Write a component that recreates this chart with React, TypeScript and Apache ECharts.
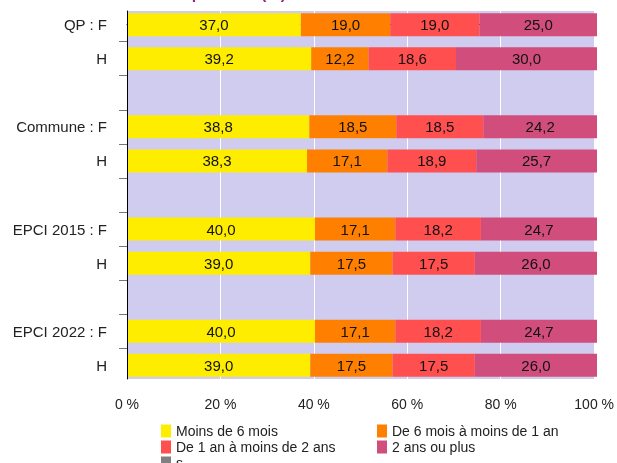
import React, { useEffect, useRef } from "react";
import * as echarts from "echarts";

const CATEGORY_KEYS = ["qpF", "qpH", "gap1", "comF", "comH", "gap2", "e15F", "e15H", "gap3", "e22F", "e22H"];
const CATEGORY_LABELS = ["QP : F", "H", "", "Commune : F", "H", "", "EPCI 2015 : F", "H", "", "EPCI 2022 : F", "H"];

const SERIES_NAMES = ["Moins de 6 mois", "De 6 mois à moins de 1 an", "De 1 an à moins de 2 ans", "2 ans ou plus", "s"];
const MOINS_6_MOIS = [37.0, 39.2, null, 38.8, 38.3, null, 40.0, 39.0, null, 40.0, 39.0];
const DE_6_MOIS_A_1_AN = [19.0, 12.2, null, 18.5, 17.1, null, 17.1, 17.5, null, 17.1, 17.5];
const DE_1_A_2_ANS = [19.0, 18.6, null, 18.5, 18.9, null, 18.2, 17.5, null, 18.2, 17.5];
const DEUX_ANS_PLUS = [25.0, 30.0, null, 24.2, 25.7, null, 24.7, 26.0, null, 24.7, 26.0];
const S_VALUES: (number | null)[] = [];

const X_MIN = 0;
const X_MAX = 100;
const X_INTERVAL = 20;

const TITLE = "Ancienneté des demandeurs par sexe (%)";

const COLORS = ["#ffed00", "#ff8000", "#ff4f4f", "#d14d7b", "#808080"];
const FONT = "'Liberation Sans', Arial, sans-serif";

export default function App() {
  const ref = useRef<HTMLDivElement>(null);

  useEffect(() => {
    if (!ref.current) return;
    const chart = echarts.init(ref.current, null, { renderer: "svg" });

    const left = 127;
    const width = 470;
    const top = 11;
    const height = 368;
    const pad = 0.4;
    const n = CATEGORY_KEYS.length;
    const slot = height / (n - 1 + 2 * pad);
    const barTop = top + pad * slot - 0.5 * slot;
    const barHeight = n * slot;
    const boundaries = CATEGORY_KEYS.slice(1).map((_, i) => i + 0.5);

    const fmt = (v: number) => v.toFixed(1).replace(".", ",");
    const values = [MOINS_6_MOIS, DE_6_MOIS_A_1_AN, DE_1_A_2_ANS, DEUX_ANS_PLUS, S_VALUES];

    const series = SERIES_NAMES.map((name, i) => ({
      name,
      type: "bar",
      stack: "total",
      xAxisIndex: 1,
      yAxisIndex: 1,
      barWidth: 23,
      itemStyle: { color: COLORS[i] },
      label: {
        show: i < 4,
        position: "inside",
        fontSize: 15,
        fontFamily: FONT,
        color: "#111",
        formatter: (p: any) => (p.value == null ? "" : fmt(p.value)),
      },
      data: values[i],
    }));

    const legendCommon = {
      orient: "vertical",
      top: 424,
      height: 80,
      padding: 0,
      itemWidth: 10,
      itemHeight: 13,
      itemGap: 2,
      icon: "rect",
      textStyle: { fontSize: 14, color: "#222", fontFamily: FONT },
    };

    chart.setOption({
      animation: false,
      textStyle: { fontFamily: FONT },
      grid: [
        { left, top, width, height, show: true, backgroundColor: "#cfccf0", borderWidth: 0, containLabel: false },
        { left, top: barTop, width, height: barHeight, show: false, containLabel: false },
      ],
      xAxis: [
        {
          type: "value",
          gridIndex: 0,
          min: X_MIN,
          max: X_MAX,
          interval: X_INTERVAL,
          axisLine: { show: true, lineStyle: { color: "#000", width: 1 } },
          axisTick: { show: true, length: 6, lineStyle: { color: "#777" } },
          axisLabel: { fontSize: 14, color: "#222", margin: 18, formatter: (v: number) => `${v} %` },
          splitLine: { show: true, lineStyle: { color: "#ffffff", width: 1 } },
        },
        {
          type: "value",
          gridIndex: 1,
          min: X_MIN,
          max: X_MAX,
          show: false,
        },
      ],
      yAxis: [
        {
          type: "value",
          gridIndex: 0,
          inverse: true,
          min: -pad,
          max: n - 1 + pad,
          z: 5,
          axisLine: { show: true, onZero: false, lineStyle: { color: "#000", width: 1 } },
          axisTick: { show: true, length: 8, customValues: boundaries, lineStyle: { color: "#777" } },
          axisLabel: { show: false },
          splitLine: { show: false },
        },
        {
          type: "category",
          gridIndex: 1,
          inverse: true,
          data: CATEGORY_KEYS,
          axisLine: { show: false },
          axisTick: { show: false },
          axisLabel: {
            margin: 20,
            fontSize: 15,
            color: "#222",
            formatter: (_v: string, idx: number) => CATEGORY_LABELS[idx],
          },
        },
      ],
      legend: [
        { ...legendCommon, left: 161, data: [SERIES_NAMES[0], SERIES_NAMES[2], SERIES_NAMES[4]] },
        { ...legendCommon, left: 377, data: [SERIES_NAMES[1], SERIES_NAMES[3]] },
      ],
      graphic: [
        {
          type: "text",
          x: 286,
          y: 1,
          style: {
            text: TITLE,
            align: "right",
            verticalAlign: "bottom",
            font: `bold 16px ${FONT}`,
            fill: "#93278f",
          },
        },
      ],
      series,
    });

    return () => chart.dispose();
  }, []);

  return <div ref={ref} style={{ position: "fixed", left: 0, top: 0, width: 617, height: 463 }} />;
}
